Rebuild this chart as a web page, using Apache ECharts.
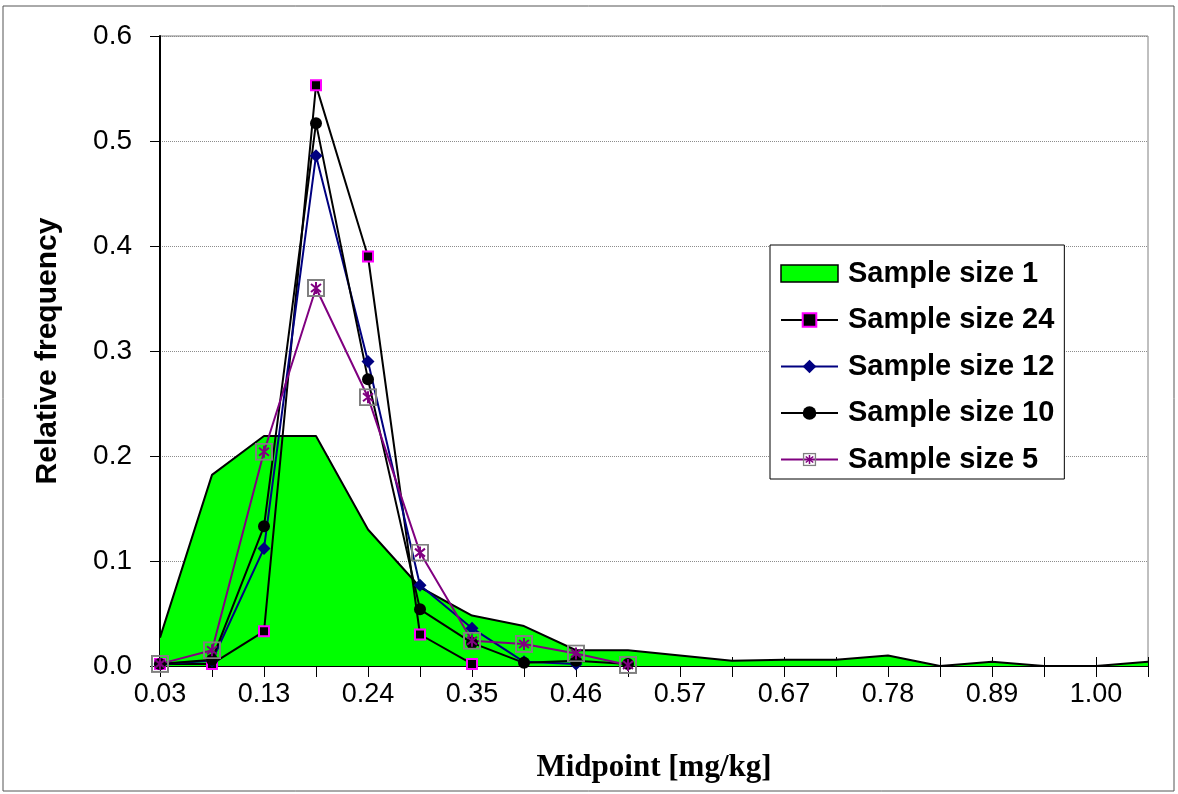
<!DOCTYPE html>
<html>
<head>
<meta charset="utf-8">
<script src="https://cdn.jsdelivr.net/npm/echarts@6/dist/echarts.min.js"></script>
<style>
html,body{margin:0;padding:0;background:#fff;}
#c{width:1178px;height:794px;}
</style>
</head>
<body>
<div id="c"></div>
<script>
var categories = ['0.03','0.08','0.13','0.19','0.24','0.30','0.35','0.41','0.46','0.51','0.57','0.62','0.67','0.73','0.78','0.84','0.89','0.95','1.00','1.05'];
var size1  = [0.027,0.182,0.219,0.219,0.130,0.075,0.048,0.038,0.015,0.015,0.010,0.005,0.006,0.006,0.010,0.000,0.004,0.000,0.000,0.004];
var size24 = [0.002,0.002,0.033,0.553,0.390,0.030,0.002];
var size12 = [0.002,0.005,0.112,0.486,0.290,0.077,0.036,0.004,0.002];
var size10 = [0.002,0.006,0.133,0.517,0.273,0.054,0.022,0.003,0.005,0.002];
var size5  = [0.002,0.015,0.204,0.360,0.256,0.108,0.024,0.021,0.012,0.001];
var yTicks = [0, 0.1, 0.2, 0.3, 0.4, 0.5, 0.6];

var starSvg = '<svg xmlns="http://www.w3.org/2000/svg" width="18" height="18" viewBox="0 0 18 18">' +
  '<rect x="1" y="1" width="16" height="16" fill="none" stroke="#808080" stroke-width="2"/>' +
  '<path d="M9 3 V15 M4 5 L14 13 M4 13 L14 5" stroke="#800080" stroke-width="2" fill="none"/></svg>';
var starSymbol = 'image://data:image/svg+xml;charset=utf-8,' + encodeURIComponent(starSvg);

var chart = echarts.init(document.getElementById('c'), null, {renderer:'canvas'});
var option = {
  backgroundColor: '#ffffff',
  animation: false,
  graphic: [{
    type: 'rect', shape: {x: 3, y: 6, width: 1171, height: 785},
    style: {fill: 'none', stroke: '#555', lineWidth: 1}, silent: true, z: -10
  }],
  grid: {left: 160, right: 30, top: 36, bottom: 128, show: true, borderColor: '#808080', borderWidth: 1, backgroundColor: 'transparent'},
  legend: {
    orient: 'vertical', left: 770, top: 245,
    padding: [14, 10, 5, 10],
    backgroundColor: '#fff', borderColor: '#000', borderWidth: 1,
    itemWidth: 57, itemHeight: 17, itemGap: 17.5,
    textStyle: {fontFamily: 'Liberation Sans, Arial, sans-serif', fontWeight: 'bold', fontSize: 29, color: '#000', lineHeight: 28, padding: [0, 0, 0, 5]},
    data: [
      {name: 'Sample size 1', icon: 'rect', itemStyle: {color: '#00FF00', borderColor: '#000', borderWidth: 1.5}},
      {name: 'Sample size 24'},
      {name: 'Sample size 12'},
      {name: 'Sample size 10'},
      {name: 'Sample size 5'}
    ]
  },
  xAxis: [{
    type: 'category', data: categories, boundaryGap: false,
    name: 'Midpoint [mg/kg]', nameLocation: 'middle', nameGap: 86,
    nameTextStyle: {fontFamily: 'Liberation Serif, Times New Roman, serif', fontWeight: 'bold', fontSize: 31, color: '#000'},
    axisLine: {lineStyle: {color: '#000', width: 2}},
    axisTick: {show: true, interval: 0, length: 11, lineStyle: {color: '#000', width: 1}},
    axisLabel: {interval: 1, margin: 15, fontFamily: 'Liberation Sans, Arial, sans-serif', fontSize: 27, color: '#000'},
    splitLine: {show: false}
  }, {
    type: 'category', data: categories, boundaryGap: false, position: 'bottom',
    axisLine: {show: false},
    axisTick: {show: true, inside: true, interval: 0, length: 9, lineStyle: {color: '#000', width: 1}},
    axisLabel: {show: false},
    splitLine: {show: false}
  }],
  yAxis: {
    type: 'value', min: 0, max: 0.6, interval: 0.1,
    name: 'Relative frequency', nameLocation: 'middle', nameGap: 97,
    nameTextStyle: {fontFamily: 'Liberation Sans, Arial, sans-serif', fontWeight: 'bold', fontSize: 30, color: '#000'},
    axisLine: {show: true, lineStyle: {color: '#000', width: 2}},
    axisTick: {show: true, length: 10, lineStyle: {color: '#000', width: 1}},
    axisLabel: {margin: 28, fontFamily: 'Liberation Sans, Arial, sans-serif', fontSize: 28, color: '#000',
      formatter: function (v) { return v.toFixed(1); }},
    splitLine: {show: true, lineStyle: {color: '#8c8c8c', type: 'dotted', width: 1}}
  },
  series: [
    {
      name: 'Sample size 1', type: 'line', data: size1, symbol: 'none', z: 1,
      itemStyle: {color: '#00FF00'},
      lineStyle: {color: '#000', width: 2},
      areaStyle: {color: '#00FF00', opacity: 1}
    },
    {
      name: 'Sample size 24', type: 'line', data: size24, symbol: 'rect', symbolSize: 10, z: 3,
      itemStyle: {color: '#000', borderColor: '#FF00FF', borderWidth: 2},
      lineStyle: {color: '#000', width: 2}
    },
    {
      name: 'Sample size 12', type: 'line', data: size12, symbol: 'diamond', symbolSize: 13, z: 3,
      itemStyle: {color: '#000080', borderWidth: 0},
      lineStyle: {color: '#000080', width: 2}
    },
    {
      name: 'Sample size 10', type: 'line', data: size10, symbol: 'circle', symbolSize: 12, z: 3,
      itemStyle: {color: '#000', borderWidth: 0},
      lineStyle: {color: '#000', width: 2}
    },
    {
      name: 'Sample size 5', type: 'line', data: size5, symbol: starSymbol, symbolSize: 18, z: 3,
      itemStyle: {color: '#800080'},
      lineStyle: {color: '#800080', width: 2}
    }
  ]
};
chart.setOption(option);
</script>
</body>
</html>
